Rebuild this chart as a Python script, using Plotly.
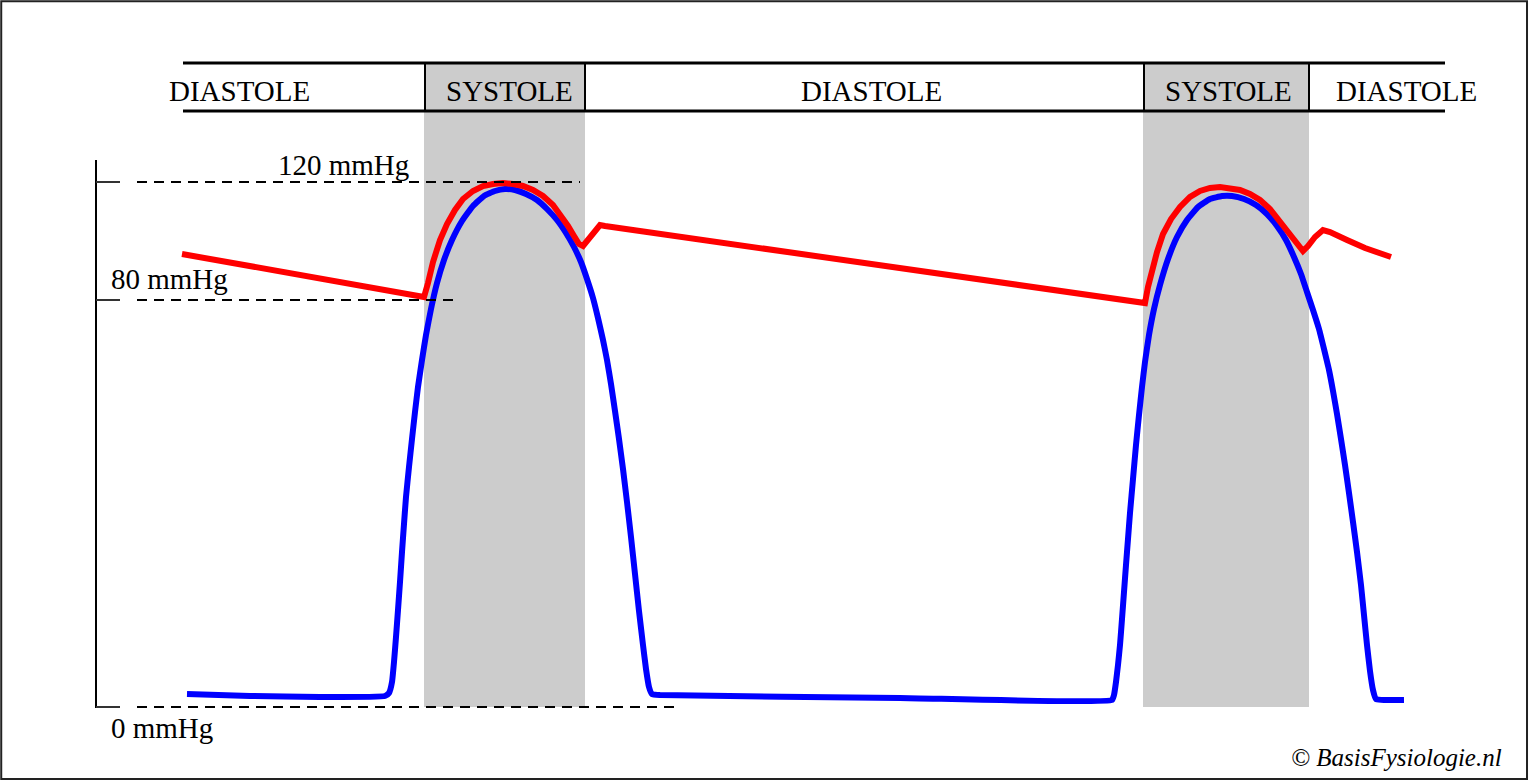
import plotly.graph_objects as go

# ---------------- data ----------------
# time axis in arbitrary schematic units; level = schematic pressure height above the 0 mmHg line
aorta_t = [182, 424, 428, 433, 440, 447, 455, 463, 473, 483, 493, 503, 513, 523, 533, 543, 553, 561, 568, 574,
           579, 583, 588, 594, 600, 605, 1145, 1148, 1152, 1157, 1163, 1171, 1180, 1190, 1200, 1210, 1220, 1230,
           1240, 1250, 1260, 1270, 1279, 1287, 1294, 1300, 1303, 1308, 1315, 1323, 1330, 1347, 1365, 1391]
aorta_level = [453, 410, 424, 445, 467, 483, 497, 508, 516, 521, 523, 524, 523, 521, 517, 511, 502, 492, 481, 471,
               463, 461, 467, 475, 482, 481, 404, 420, 437, 455, 473, 488, 500, 510, 516, 519, 520, 519,
               517, 513, 507, 498, 487, 477, 467, 459, 456, 461, 470, 477, 475, 467, 459, 450]

ventricle_t = [187, 250, 320, 385, 389, 392, 394, 396, 398, 400, 402, 404, 406, 409, 412, 415, 418, 422, 426, 431,
               437, 444, 452, 462, 473, 484, 495, 505, 515, 526, 537, 547, 557, 566, 574, 581, 587, 593, 598,
               603, 607, 611, 615, 619, 623, 627, 631, 635, 639, 643, 646, 649, 652, 660, 900,
               1112, 1114, 1116, 1118, 1120, 1122, 1124, 1126, 1128, 1130, 1133, 1136, 1139, 1142, 1145, 1149,
               1154, 1160, 1168, 1177, 1187, 1198, 1210, 1222, 1232, 1244, 1256, 1267, 1277, 1286, 1294, 1301,
               1307, 1313, 1319, 1324, 1329, 1333, 1337, 1341, 1345, 1349, 1353, 1357, 1361, 1364, 1367, 1370,
               1373, 1376, 1404]
ventricle_level = [13, 11, 10, 11, 14, 25, 45, 70, 97, 125, 155, 183, 210, 240, 268, 295, 320, 347, 372, 398,
                   424, 447, 467, 486, 501, 511, 516, 518, 517, 513, 507, 498, 487, 474, 460, 445, 428, 409, 389,
                   367, 347, 323, 296, 268, 238, 205, 170, 133, 96, 62, 38, 20, 13, 12, 9,
                   7, 12, 25, 42, 62, 88, 115, 142, 168, 194, 228, 262, 292, 320, 345, 372,
                   398, 422, 448, 470, 487, 500, 508, 511, 511, 508, 502, 493, 481, 467, 450, 433,
                   415, 397, 378, 358, 337, 316, 293, 268, 242, 214, 185, 155, 122, 92, 62, 36,
                   17, 8, 7]

phase_labels = ["DIASTOLE", "SYSTOLE", "DIASTOLE", "SYSTOLE", "DIASTOLE"]
phase_label_t = [239, 509, 871, 1228, 1406]
systole_start = [424, 1143]
systole_end = [585, 1309]
phase_bar_t = [183, 1445]

pressure_labels = ["0 mmHg", "80 mmHg", "120 mmHg"]
pressure_level = [0, 407, 525]
pressure_label_t = [109, 109, 276]
pressure_label_level = [-21, 428, 542]
reference_line_end = [680, 460, 580]

copyright_text = "© BasisFysiologie.nl"

# ---------------- figure ----------------
BAR_TOP, BAR_BOTTOM = 644, 596
AX_X = 96
SERIF = "Liberation Serif, Times New Roman, serif"

fig = go.Figure()

shapes = []
# grey systole bands
for s, e in zip(systole_start, systole_end):
    shapes.append(dict(type="rect", xref="x", yref="y", x0=s, x1=e, y0=0, y1=BAR_BOTTOM,
                       fillcolor="#cccccc", line=dict(width=0), layer="below"))
    shapes.append(dict(type="rect", xref="x", yref="y", x0=s + 1, x1=e - 1, y0=BAR_BOTTOM, y1=BAR_TOP,
                       fillcolor="#cccccc", line=dict(width=0), layer="below"))
    for xv in (s + 1, e):
        shapes.append(dict(type="line", xref="x", yref="y", x0=xv, x1=xv, y0=BAR_BOTTOM, y1=BAR_TOP,
                           line=dict(color="black", width=2)))
# phase bar horizontal lines
for yv in (BAR_TOP, BAR_BOTTOM):
    shapes.append(dict(type="line", xref="x", yref="y", x0=phase_bar_t[0], x1=phase_bar_t[1], y0=yv, y1=yv,
                       line=dict(color="black", width=3)))
# vertical axis
shapes.append(dict(type="line", xref="x", yref="y", x0=AX_X, x1=AX_X, y0=-1, y1=547,
                   line=dict(color="black", width=2)))
# ticks and dashed reference lines
for lvl, end in zip(pressure_level, reference_line_end):
    shapes.append(dict(type="line", xref="x", yref="y", x0=AX_X, x1=120, y0=lvl, y1=lvl,
                       line=dict(color="#333333", width=2)))
    shapes.append(dict(type="line", xref="x", yref="y", x0=137, x1=end, y0=lvl, y1=lvl,
                       line=dict(color="black", width=2, dash="10px,7px")))
# outer border
shapes.append(dict(type="rect", xref="paper", yref="paper", x0=0.0008, x1=0.9987, y0=0.0025, y1=0.9985,
                   line=dict(color="#222222", width=2), fillcolor="rgba(0,0,0,0)"))

fig.add_trace(go.Scatter(x=ventricle_t, y=ventricle_level, mode="lines",
                         line=dict(color="#0000ff", width=6, shape="spline", smoothing=0.4),
                         name="Ventrikel", hoverinfo="skip"))
fig.add_trace(go.Scatter(x=aorta_t, y=aorta_level, mode="lines",
                         line=dict(color="#ff0000", width=6), name="Aorta", hoverinfo="skip"))

annotations = []
for lab, t in zip(phase_labels, phase_label_t):
    annotations.append(dict(x=t, y=(BAR_TOP + BAR_BOTTOM) / 2 - 4, xref="x", yref="y", text=lab,
                            showarrow=False, xanchor="center", yanchor="middle",
                            font=dict(family=SERIF, size=29, color="black")))
for lab, t, lv in zip(pressure_labels, pressure_label_t, pressure_label_level):
    annotations.append(dict(x=t, y=lv, xref="x", yref="y", text=lab, showarrow=False,
                            xanchor="left", yanchor="middle",
                            font=dict(family=SERIF, size=29, color="black")))
annotations.append(dict(x=1504, y=-50, xref="x", yref="y", text="<i>" + copyright_text + "</i>",
                        showarrow=False, xanchor="right", yanchor="middle",
                        font=dict(family=SERIF, size=25, color="black")))

fig.update_layout(
    width=1529, height=781,
    margin=dict(l=0, r=0, t=0, b=0, pad=0),
    paper_bgcolor="white", plot_bgcolor="white",
    showlegend=False,
    xaxis=dict(range=[0, 1529], visible=False, fixedrange=True),
    yaxis=dict(range=[-74, 707], visible=False, fixedrange=True),
    shapes=shapes, annotations=annotations,
)

fig.write_html("out.html", config={"displayModeBar": False},
               post_script="document.body.style.margin='0';document.body.style.overflow='hidden';")
